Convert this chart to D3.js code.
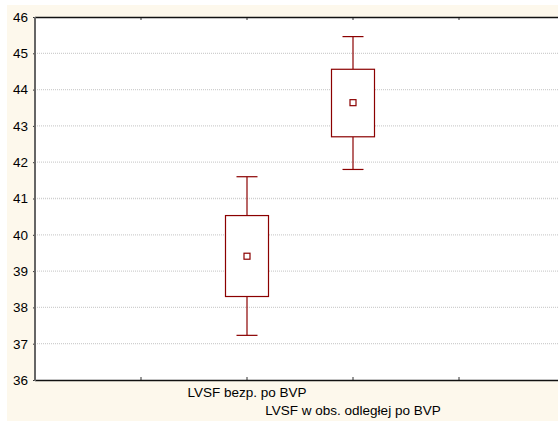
<!DOCTYPE html>
<html>
<head>
<meta charset="utf-8">
<script src="https://cdn.jsdelivr.net/npm/d3@7"></script>
<style>
  html, body { margin: 0; padding: 0; background: #ffffff; }
  svg { display: block; }
</style>
</head>
<body>
<script>
// Group labels and box-plot statistics (mean, box = ±SE, whiskers = ±1.96·SE)
const categories = ["LVSF bezp. po BVP", "LVSF w obs. odległej po BVP"];
const positions = [2, 3];
const means = [39.41, 43.64];
const boxLow = [38.30, 42.70];
const boxHigh = [40.53, 44.56];
const whiskerLow = [37.23, 41.80];
const whiskerHigh = [41.60, 45.46];
const yTicks = [36, 37, 38, 39, 40, 41, 42, 43, 44, 45, 46];
const xTicks = [1, 2, 3, 4];

const W = 558, H = 421;
const plot = { left: 35, top: 17, right: 565, bottom: 380 };
const red = "#8b0000";
const font = "Arial, 'Liberation Sans', sans-serif";
const fontSize = 13.5;

const svg = d3.select("body").append("svg")
  .attr("width", W).attr("height", H);

// cream backdrop
svg.append("rect").attr("x", 7).attr("y", 5)
  .attr("width", W - 7).attr("height", H - 5).attr("fill", "#fdf8ec");
svg.append("rect").attr("x", plot.left).attr("y", plot.top)
  .attr("width", plot.right - plot.left).attr("height", plot.bottom - plot.top)
  .attr("fill", "#ffffff");

const x = d3.scaleLinear().domain([0, 5]).range([plot.left, plot.right]);
const y = d3.scaleLinear().domain([36, 46]).range([plot.bottom, plot.top]);

// horizontal grid lines
svg.append("g").selectAll("line").data(yTicks.slice(1, -1)).join("line")
  .attr("x1", plot.left).attr("x2", W)
  .attr("y1", d => y(d)).attr("y2", d => y(d))
  .attr("stroke", "#cfcfcf").attr("stroke-width", 1.3)
  .attr("stroke-dasharray", "1,1");

// y axis labels and ticks
const yAxis = d3.axisLeft(y).tickValues(yTicks).tickSize(2).tickPadding(5)
  .tickFormat(d3.format("d"));
const gy = svg.append("g").attr("transform", `translate(${plot.left},0)`).call(yAxis);
gy.select(".domain").remove();
gy.selectAll(".tick line").attr("stroke", "#333");
gy.selectAll("text").attr("font-family", font)
  .attr("font-size", fontSize).attr("fill", "#000");

// x ticks, pointing inward at top and bottom
const xt = svg.append("g");
xt.selectAll("line.b").data(xTicks).join("line").attr("class", "b")
  .attr("x1", d => x(d)).attr("x2", d => x(d))
  .attr("y1", plot.bottom).attr("y2", plot.bottom - 3)
  .attr("stroke", "#333");
xt.selectAll("line.t").data(xTicks).join("line").attr("class", "t")
  .attr("x1", d => x(d)).attr("x2", d => x(d))
  .attr("y1", plot.top).attr("y2", plot.top + 3)
  .attr("stroke", "#333");

// frame
svg.append("line").attr("x1", plot.left).attr("x2", W)
  .attr("y1", plot.top + 0.5).attr("y2", plot.top + 0.5)
  .attr("stroke", "#111").attr("stroke-width", 1.5);
svg.append("line").attr("x1", plot.left).attr("x2", W)
  .attr("y1", plot.bottom + 0.5).attr("y2", plot.bottom + 0.5)
  .attr("stroke", "#111").attr("stroke-width", 1.5);
svg.append("line").attr("x1", plot.left).attr("x2", plot.left)
  .attr("y1", plot.top).attr("y2", plot.bottom + 1)
  .attr("stroke", "#666").attr("stroke-width", 2);

// boxes
const data = categories.map((c, i) => ({
  c, p: positions[i], m: means[i], lo: boxLow[i], hi: boxHigh[i],
  wl: whiskerLow[i], wh: whiskerHigh[i]
}));
const boxW = 43, capW = 21, mk = 6;
const g = svg.append("g").selectAll("g").data(data).join("g");
g.append("line")
  .attr("x1", d => x(d.p)).attr("x2", d => x(d.p))
  .attr("y1", d => y(d.wh)).attr("y2", d => y(d.hi))
  .attr("stroke", red).attr("stroke-width", 1.2);
g.append("line")
  .attr("x1", d => x(d.p)).attr("x2", d => x(d.p))
  .attr("y1", d => y(d.lo)).attr("y2", d => y(d.wl))
  .attr("stroke", red).attr("stroke-width", 1.2);
g.append("line")
  .attr("x1", d => x(d.p) - capW / 2).attr("x2", d => x(d.p) + capW / 2)
  .attr("y1", d => y(d.wh)).attr("y2", d => y(d.wh))
  .attr("stroke", red).attr("stroke-width", 1.2);
g.append("line")
  .attr("x1", d => x(d.p) - capW / 2).attr("x2", d => x(d.p) + capW / 2)
  .attr("y1", d => y(d.wl)).attr("y2", d => y(d.wl))
  .attr("stroke", red).attr("stroke-width", 1.2);
g.append("rect")
  .attr("x", d => x(d.p) - boxW / 2).attr("width", boxW)
  .attr("y", d => y(d.hi)).attr("height", d => y(d.lo) - y(d.hi))
  .attr("fill", "#ffffff").attr("stroke", red).attr("stroke-width", 1.2);
g.append("rect")
  .attr("x", d => x(d.p) - mk / 2).attr("width", mk)
  .attr("y", d => y(d.m) - mk / 2).attr("height", mk)
  .attr("fill", "#ffffff").attr("stroke", red).attr("stroke-width", 1.2);

// category labels, staggered
svg.append("g").selectAll("text").data(data).join("text")
  .attr("x", d => x(d.p)).attr("y", (d, i) => 397 + i * 18)
  .attr("text-anchor", "middle")
  .attr("font-family", font)
  .attr("font-size", fontSize).attr("fill", "#000")
  .text(d => d.c);
</script>
</body>
</html>
